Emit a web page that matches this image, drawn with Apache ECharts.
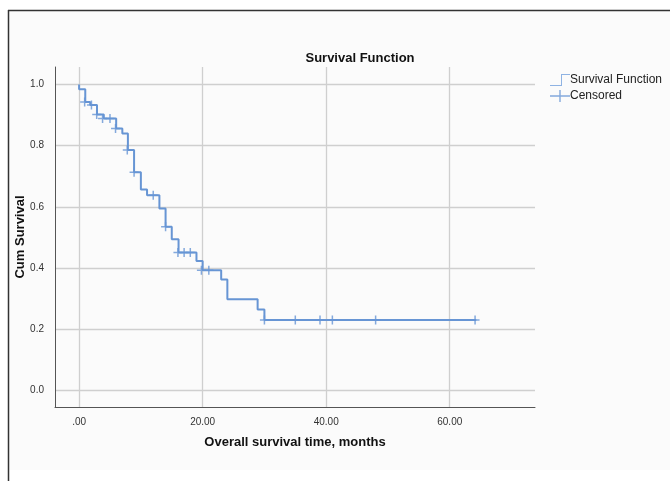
<!DOCTYPE html>
<html>
<head>
<meta charset="utf-8">
<script src="https://cdn.jsdelivr.net/npm/echarts@6/dist/echarts.min.js"></script>
<style>
html,body{margin:0;padding:0;background:#fff;}
#chart{width:670px;height:481px;}
</style>
</head>
<body>
<div id="chart"></div>
<script>
// Kaplan-Meier step points (time in months, cumulative survival after the step)
var stepTimes = [0, 0, 1.0, 1.8, 2.9, 4.0, 6.0, 7.0, 7.9, 8.9, 10.0, 11.0, 13.0, 14.0, 15.0, 16.1, 19.0, 20.0, 23.0, 24.0, 28.9, 30.0, 64.3];
var stepSurv  = [1.0, 0.984, 0.943, 0.933, 0.902, 0.889, 0.856, 0.840, 0.786, 0.713, 0.657, 0.638, 0.595, 0.535, 0.494, 0.451, 0.423, 0.393, 0.363, 0.298, 0.265, 0.230, 0.230];
// Censored observations
var censorTimes = [0.9, 2.0, 2.85, 3.8, 5.0, 5.9, 7.8, 8.9, 12.0, 14.0, 16.0, 17.0, 18.0, 19.8, 21.0, 30.0, 35.0, 39.0, 41.0, 48.0, 64.1];
var censorSurv  = [0.943, 0.933, 0.902, 0.889, 0.889, 0.856, 0.786, 0.713, 0.638, 0.535, 0.451, 0.451, 0.451, 0.393, 0.393, 0.230, 0.230, 0.230, 0.230, 0.230, 0.230];
// Tick values
var xTicks = [0, 20, 40, 60];
var yTicks = [0, 0.2, 0.4, 0.6, 0.8, 1.0];

var lineColor = '#6795d4';
var font = 'Liberation Sans, Arial, sans-serif';

var stepData = stepTimes.map(function (t, i) { return [t, stepSurv[i]]; });
var censorData = censorTimes.map(function (t, i) { return [t, censorSurv[i]]; });

var plusPath = 'path://M0,5 L12,5 L12,7 L0,7 Z M5,0 L7,0 L7,12 L5,12 Z';
var stepIcon = 'path://M0,11 L11,11 L11,0 L20,0 L20,1 L12,1 L12,12 L0,12 Z';
var plusIcon = 'path://M0,5.3 L20,5.3 L20,6.7 L0,6.7 Z M9.3,0 L10.7,0 L10.7,12 L9.3,12 Z';

var chart = echarts.init(document.getElementById('chart'));
chart.setOption({
  animation: false,
  backgroundColor: '#ffffff',
  textStyle: { fontFamily: font },
  graphic: [
    { type: 'rect', z: -10, shape: { x: 9, y: 11, width: 661, height: 459 }, style: { fill: '#fbfbfb' } },
    { type: 'line', z: 10, shape: { x1: 8.5, y1: 10, x2: 8.5, y2: 481 }, style: { stroke: '#333', lineWidth: 1.5 } },
    { type: 'line', z: 10, shape: { x1: 8, y1: 10.5, x2: 670, y2: 10.5 }, style: { stroke: '#333', lineWidth: 1.5 } }
  ],
  title: {
    text: 'Survival Function',
    left: 355, top: 47, textAlign: 'center',
    textStyle: { fontFamily: font, fontSize: 13, fontWeight: 'bold', color: '#111' }
  },
  legend: {
    orient: 'vertical',
    left: 545, top: 69,
    itemGap: 4,
    itemWidth: 20, itemHeight: 12,
    textStyle: { fontFamily: font, fontSize: 12, color: '#222', padding: [0, 0, 0, -5] },
    data: [
      { name: 'Survival Function', icon: stepIcon, itemStyle: { color: '#8fb3e3' } },
      { name: 'Censored', icon: plusIcon }
    ]
  },
  grid: { left: 55, right: 135, top: 67, bottom: 74, containLabel: false, outerBoundsMode: 'none' },
  xAxis: {
    type: 'value',
    min: -3.9, max: 73.8,
    name: 'Overall survival time, months',
    nameLocation: 'middle', nameGap: 29,
    nameTextStyle: { fontFamily: font, fontSize: 13, fontWeight: 'bold', color: '#111' },
    axisLine: { show: true, onZero: false, lineStyle: { color: '#555', width: 1 } },
    axisTick: { show: false, customValues: xTicks },
    axisLabel: {
      customValues: xTicks, fontSize: 10, color: '#333', margin: 10,
      formatter: function (v) { return v === 0 ? '.00' : v.toFixed(2); }
    },
    splitLine: { show: true, lineStyle: { color: '#cfcfcf', width: 1.3 } }
  },
  yAxis: {
    type: 'value',
    min: -0.054, max: 1.057,
    name: 'Cum Survival',
    nameLocation: 'middle', nameGap: 28, nameRotate: 90, nameMoveOverlap: false,
    nameTextStyle: { fontFamily: font, fontSize: 13, fontWeight: 'bold', color: '#111' },
    axisLine: { show: true, onZero: false, lineStyle: { color: '#555', width: 1 } },
    axisTick: { show: false, customValues: yTicks },
    axisLabel: {
      customValues: yTicks, fontSize: 10, color: '#333', margin: 11,
      formatter: function (v) { return v.toFixed(1); }
    },
    splitLine: { show: true, lineStyle: { color: '#cfcfcf', width: 1.3 } }
  },
  series: [
    {
      name: 'Survival Function',
      type: 'line',
      step: 'end',
      data: stepData,
      showSymbol: false,
      symbol: 'none',
      lineStyle: { color: lineColor, width: 2 },
      itemStyle: { color: lineColor },
      z: 3
    },
    {
      name: 'Censored',
      type: 'scatter',
      data: censorData,
      symbol: plusPath,
      symbolSize: [9, 9],
      itemStyle: { color: lineColor },
      z: 4
    }
  ]
});
</script>
</body>
</html>
